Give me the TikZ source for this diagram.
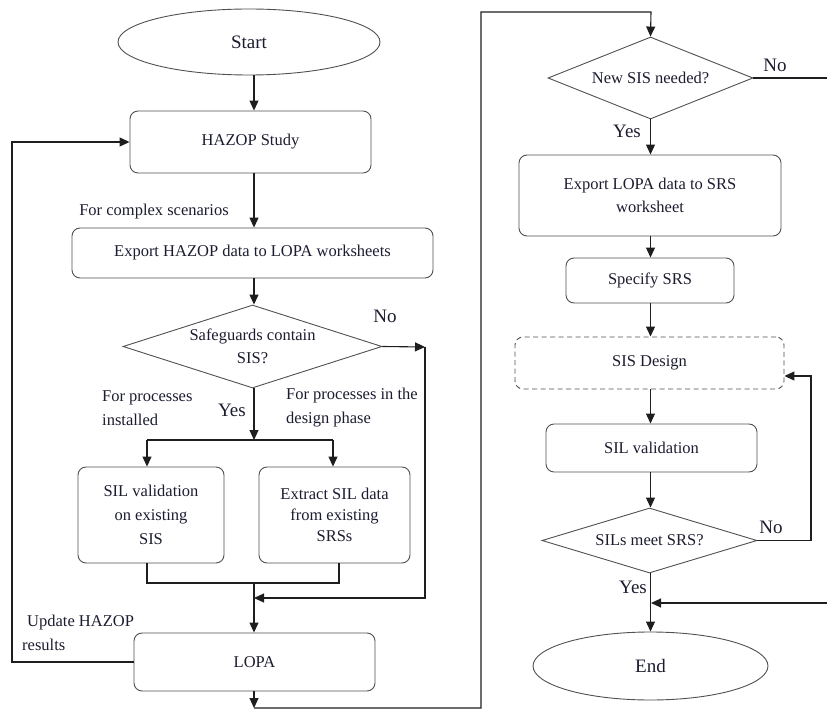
\documentclass[tikz,border=0pt]{standalone}
\usepackage{fontspec}
\setmainfont{Liberation Serif}
\usetikzlibrary{shapes.geometric,arrows.meta}
\definecolor{txt}{RGB}{28,28,48}
\definecolor{ln}{RGB}{30,30,30}
\definecolor{bd}{RGB}{80,80,80}
\begin{document}
\begin{tikzpicture}[x=1pt,y=-1pt,
  every node/.style={text=txt,font=\fontsize{16.5}{24}\selectfont},
  box/.style={draw=bd,line width=0.9pt,rounded corners=8pt,inner sep=0pt,align=center},
  term/.style={draw=bd,line width=0.9pt,ellipse,inner sep=0pt,font=\fontsize{19}{22}\selectfont},
  decision/.style={draw=bd,line width=0.9pt,diamond,inner sep=0pt},
  yn/.style={font=\fontsize{19}{22}\selectfont,inner sep=0pt},
  lbl/.style={inner sep=0pt,align=left},
  arr/.style={draw=ln,line width=1.1pt,-{Triangle[length=10pt,width=9pt]}},
  con/.style={draw=ln,line width=1.1pt}]
\useasboundingbox (0,0) rectangle (827,711);
% left column
\node[term,minimum width=262pt,minimum height=66pt] (start) at (249,42) {Start};
\node[box,minimum width=241pt,minimum height=62pt] (hazop) at (250.5,142) {HAZOP Study};
\node[box,minimum width=361pt,minimum height=50pt] (export) at (252.5,253) {Export HAZOP data to LOPA worksheets};
\node[decision,minimum width=259pt,minimum height=83pt,
  label={[align=center,text=txt,font=\fontsize{16.5}{23}\selectfont]center:Safeguards contain\\SIS?}] (safe) at (252.5,346.5) {};
\node[box,minimum width=146pt,minimum height=96pt] (silv) at (151,515) {SIL validation\\on existing\\SIS};
\node[box,minimum width=151pt,minimum height=96pt,font=\fontsize{16.5}{21}\selectfont] (extract) at (334.5,515) {Extract SIL data\\from existing\\SRSs};
\node[box,minimum width=241pt,minimum height=58pt] (lopa) at (254.5,662) {LOPA};
% right column
\node[decision,minimum width=205pt,minimum height=82pt,
  label={[text=txt,font=\fontsize{16.5}{23}\selectfont]center:New SIS needed?}] (newsis) at (650.5,78) {};
\node[box,minimum width=262pt,minimum height=81pt,font=\fontsize{16.5}{23}\selectfont] (exlopa) at (650,195.5) {Export LOPA data to SRS\\worksheet};
\node[box,minimum width=168pt,minimum height=45pt] (spec) at (650,280.5) {Specify SRS};
\node[box,dash pattern=on 5pt off 3.5pt,minimum width=269pt,minimum height=52pt] (sisd) at (649.5,363) {SIS Design};
\node[box,minimum width=211pt,minimum height=48pt] (silval) at (651.5,448) {SIL validation};
\node[decision,minimum width=215pt,minimum height=65pt,
  label={[text=txt,font=\fontsize{16.5}{23}\selectfont]center:SILs meet SRS?}] (meet) at (649.5,540.5) {};
\node[term,minimum width=235pt,minimum height=68pt] (end) at (650.5,666) {End};
% labels
\node[lbl] (lcomplex) at (154,212) {For complex scenarios};
\node[lbl,anchor=west] (linst) at (102,408) {For processes\\installed};
\node[lbl,anchor=west] (ldesign) at (286,408) {For processes in the\\design phase};
\node[lbl,anchor=west] (lupd) at (22,633) {\hspace{5pt}Update HAZOP\\results};
\node[yn] (no1) at (385,316) {No};
\node[yn] (yes1) at (232,410) {Yes};
\node[yn] (no2) at (775,65) {No};
\node[yn] (yes2) at (627,131) {Yes};
\node[yn] (no3) at (771,527) {No};
\node[yn] (yes3) at (633,587) {Yes};
% coordinates
\coordinate (cx) at (254,0);
\coordinate (lx) at (12,0);
\coordinate (br) at (254,440);
\coordinate (bl) at (147,440);
\coordinate (brr) at (333,440);
\coordinate (m1) at (147,583);
\coordinate (m2) at (339,583);
\coordinate (mj) at (254,583);
\coordinate (nx) at (425,347);
\coordinate (nd) at (425,598);
\coordinate (nj) at (254,598);
\coordinate (b1) at (254,708);
\coordinate (b2) at (481,708);
\coordinate (b3) at (481,12);
\coordinate (b4) at (651,12);
\coordinate (r1) at (827,78);
\coordinate (r2) at (827,603);
\coordinate (j2) at (651,603);
\coordinate (sy) at (811,376);
% left connectors
\draw[arr] (start.south -| cx) -- (hazop.north -| cx);
\draw[arr] (hazop.south -| cx) -- (export.north -| cx);
\draw[arr] (export.south -| cx) -- (safe.north -| cx);
\draw[arr] (safe.south -| cx) -- (br);
\draw[con] (bl) -- (brr);
\draw[arr] (bl) -- (silv.north -| bl);
\draw[arr] (brr) -- (extract.north -| brr);
\draw[con] (silv.south -| m1) -- (m1) -- (m2) -- (extract.south -| m2);
\draw[arr] (mj) -- (lopa.north -| mj);
\draw[arr] (safe.east) -- (nx);
\draw[arr] (nx) -- (nd) -- (nj);
\draw[arr] (lopa.west) -- (lopa.west -| lx) |- (hazop.west);
\draw[arr] (lopa.south -| cx) -- (b1);
\draw[arr] (b1) -- (b2) -- (b3) -- (b4) -- (newsis.north);
% right connectors
\draw[arr] (newsis.south) -- (exlopa.north -| newsis.south);
\draw[arr] (exlopa.south -| newsis.south) -- (spec.north -| newsis.south);
\draw[arr] (spec.south -| newsis.south) -- (sisd.north -| newsis.south);
\draw[arr] (sisd.south -| newsis.south) -- (silval.north -| newsis.south);
\draw[arr] (silval.south -| newsis.south) -- (meet.north -| newsis.south);
\draw[arr] (meet.south -| newsis.south) -- (end.north -| newsis.south);
\draw[con] (newsis.east) -- (r1);
\draw[arr] (r2) -- (j2);
\draw[arr] (meet.east) -| (sy) -- (sy -| sisd.east);
\end{tikzpicture}
\end{document}
